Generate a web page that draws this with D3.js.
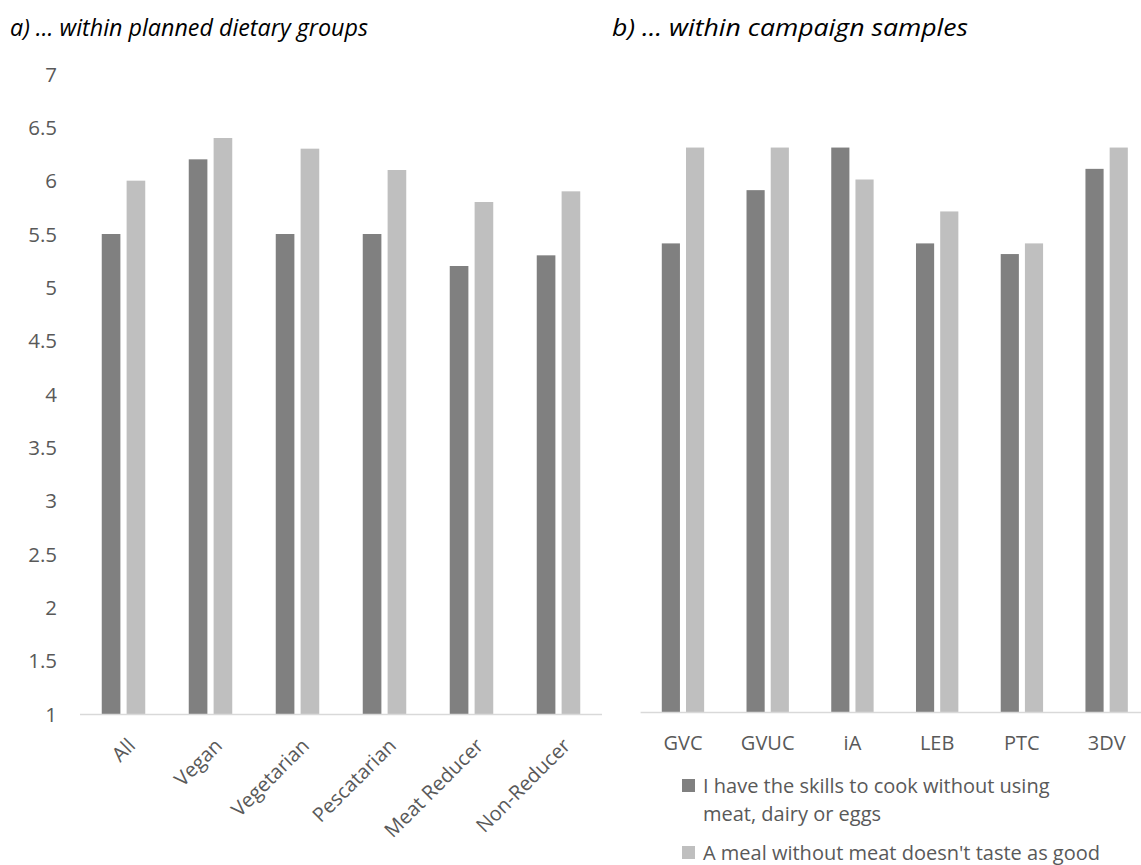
<!DOCTYPE html>
<html>
<head>
<meta charset="utf-8">
<script src="https://cdn.jsdelivr.net/npm/d3@7/dist/d3.min.js"></script>
<style>
  html, body { margin: 0; padding: 0; background: #fff; }
  svg { display: block; }
</style>
</head>
<body>
<svg id="chart" width="1141" height="865"></svg>
<script>
// ---- data ----
const titleA = "a) … within planned dietary groups";
const titleB = "b) … within campaign samples";
const categoriesA = ["All", "Vegan", "Vegetarian", "Pescatarian", "Meat Reducer", "Non-Reducer"];
const skillsA = [5.5, 6.2, 5.5, 5.5, 5.2, 5.3];
const tasteA  = [6.0, 6.4, 6.3, 6.1, 5.8, 5.9];
const categoriesB = ["GVC", "GVUC", "iA", "LEB", "PTC", "3DV"];
const skillsB = [5.4, 5.9, 6.3, 5.4, 5.3, 6.1];
const tasteB  = [6.3, 6.3, 6.0, 5.7, 5.4, 6.3];
const yTicks = [1, 1.5, 2, 2.5, 3, 3.5, 4, 4.5, 5, 5.5, 6, 6.5, 7];
const seriesKeys = ["skills", "taste"];
const seriesColors = ["#808080", "#BFBFBF"];
const legendLines = [
  ["I have the skills to cook without using", "meat, dairy or eggs"],
  ["A meal without meat doesn't taste as good"]
];

const svg = d3.select("#chart");
const tickFont = "'Open Sans', 'DejaVu Sans', sans-serif";
const labelColor = "#595959";

function buildRows(cats, s1, s2) {
  return cats.map((c, i) => ({ cat: c, skills: s1[i], taste: s2[i] }));
}

function drawPanel(cfg) {
  const g = svg.append("g");
  const x0 = d3.scaleBand().domain(cfg.cats).range(cfg.xRange).paddingInner(0).paddingOuter(0);
  const bw = x0.bandwidth();
  const x1 = d3.scaleBand().domain(seriesKeys).range([bw * 0.25, bw * 0.75]).paddingInner(0.25).paddingOuter(0);
  const y = d3.scaleLinear().domain([1, 7]).range(cfg.yRange);
  const color = d3.scaleOrdinal().domain(seriesKeys).range(seriesColors);

  const groups = g.selectAll("g.cat").data(cfg.rows).join("g")
    .attr("class", "cat")
    .attr("transform", d => `translate(${x0(d.cat)},0)`);
  groups.selectAll("rect").data(d => seriesKeys.map(k => ({ key: k, value: d[k] }))).join("rect")
    .attr("x", d => x1(d.key))
    .attr("width", x1.bandwidth())
    .attr("y", d => y(d.value))
    .attr("height", d => y(1) - y(d.value))
    .attr("fill", d => color(d.key));

  // baseline
  g.append("line")
    .attr("x1", cfg.xRange[0]).attr("x2", cfg.xRange[1])
    .attr("y1", y(1) + 0.5).attr("y2", y(1) + 0.5)
    .attr("stroke", "#D9D9D9").attr("stroke-width", 1.5);

  if (cfg.showY) {
    const ya = d3.axisLeft(y).tickValues(yTicks).tickFormat(d => String(d)).tickSize(0).tickPadding(0);
    const yg = g.append("g").attr("transform", `translate(57,0)`).call(ya);
    yg.select(".domain").remove();
    yg.selectAll("text").attr("font-family", tickFont).attr("font-size", 20.5).attr("fill", labelColor).attr("dy", "0.35em");
  }

  const xa = d3.axisBottom(x0).tickSize(0).tickPadding(0);
  const xg = g.append("g").attr("transform", `translate(0,${y(1)})`).call(xa);
  xg.select(".domain").remove();
  const xt = xg.selectAll("text").attr("font-family", tickFont).attr("font-size", 20).attr("fill", labelColor);
  if (cfg.rotate) {
    xt.attr("text-anchor", "end").attr("dy", "0.35em")
      .attr("transform", "translate(8,28) rotate(-45)");
  } else {
    xt.attr("dy", "0").attr("transform", "translate(0,38)");
  }
  return { x0, y };
}

drawPanel({ cats: categoriesA, rows: buildRows(categoriesA, skillsA, tasteA),
  xRange: [80, 602], yRange: [714, 74], showY: true, rotate: true });
drawPanel({ cats: categoriesB, rows: buildRows(categoriesB, skillsB, tasteB),
  xRange: [640.6, 1149], yRange: [712, 73], showY: false, rotate: false });

// titles
function title(txt, x, w) {
  svg.append("text").text(txt)
    .attr("x", x).attr("y", 36)
    .attr("font-family", "'Open Sans', sans-serif").attr("font-style", "italic")
    .attr("font-size", 23).attr("fill", "#000")
    .attr("textLength", w).attr("lengthAdjust", "spacingAndGlyphs");
}
title(titleA, 10, 358);
title(titleB, 612, 356);

// legend
const legend = svg.append("g").attr("transform", "translate(682,779)");
const itemY = [0, 67];
legendLines.forEach((lines, i) => {
  const it = legend.append("g").attr("transform", `translate(0,${itemY[i]})`);
  it.append("rect").attr("width", 13).attr("height", 13).attr("fill", seriesColors[i]);
  const t = it.append("text").attr("font-family", tickFont).attr("font-size", 20).attr("fill", labelColor);
  lines.forEach((ln, j) => {
    t.append("tspan").attr("x", 21).attr("y", 14 + j * 28).text(ln);
  });
});
</script>
</body>
</html>
